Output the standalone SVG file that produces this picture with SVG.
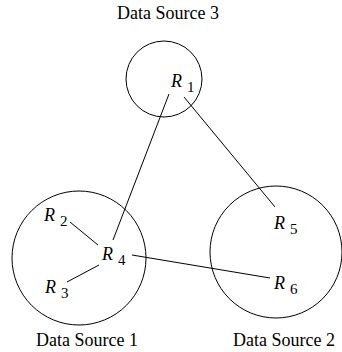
<svg xmlns="http://www.w3.org/2000/svg" width="342" height="352" viewBox="0 0 342 352">
<style>
.c{fill:none;stroke:#000;stroke-width:1}
.l{stroke:#000;stroke-width:1;fill:none}
.t{font-family:"Liberation Serif","Times New Roman",serif;font-size:18px;fill:#000}
.r{font-family:"Liberation Serif","Times New Roman",serif;font-size:18px;font-style:italic;fill:#000}
.s{font-family:"Liberation Serif","Times New Roman",serif;font-size:15px;fill:#000}
</style>
<rect width="342" height="352" fill="#fff"/>
<g id="ds3">
<circle class="c" cx="164" cy="79" r="38"/>
<text class="t" x="168" y="19" text-anchor="middle">Data Source 3</text>
</g>
<g id="ds1">
<circle class="c" cx="79" cy="258" r="67"/>
<text class="t" x="87" y="346" text-anchor="middle">Data Source 1</text>
</g>
<g id="ds2">
<circle class="c" cx="276" cy="252" r="66"/>
<text class="t" x="284" y="346" text-anchor="middle">Data Source 2</text>
</g>
<g id="connectors">
<line class="l" x1="169" y1="94" x2="113" y2="240"/>
<line class="l" x1="184" y1="97" x2="275" y2="207"/>
<line class="l" x1="70" y1="222" x2="98" y2="245"/>
<line class="l" x1="67" y1="282" x2="99" y2="265"/>
<line class="l" x1="132" y1="255" x2="270" y2="278"/>
</g>
<g id="r1"><text class="r" x="171" y="87">R</text><text class="s" x="187" y="92">1</text></g>
<g id="r2"><text class="r" x="44" y="221">R</text><text class="s" x="60" y="226">2</text></g>
<g id="r3"><text class="r" x="45" y="293">R</text><text class="s" x="61" y="298">3</text></g>
<g id="r4"><text class="r" x="102" y="260">R</text><text class="s" x="118" y="265">4</text></g>
<g id="r5"><text class="r" x="274" y="229">R</text><text class="s" x="290" y="234">5</text></g>
<g id="r6"><text class="r" x="274" y="289">R</text><text class="s" x="290" y="294">6</text></g>
</svg>
